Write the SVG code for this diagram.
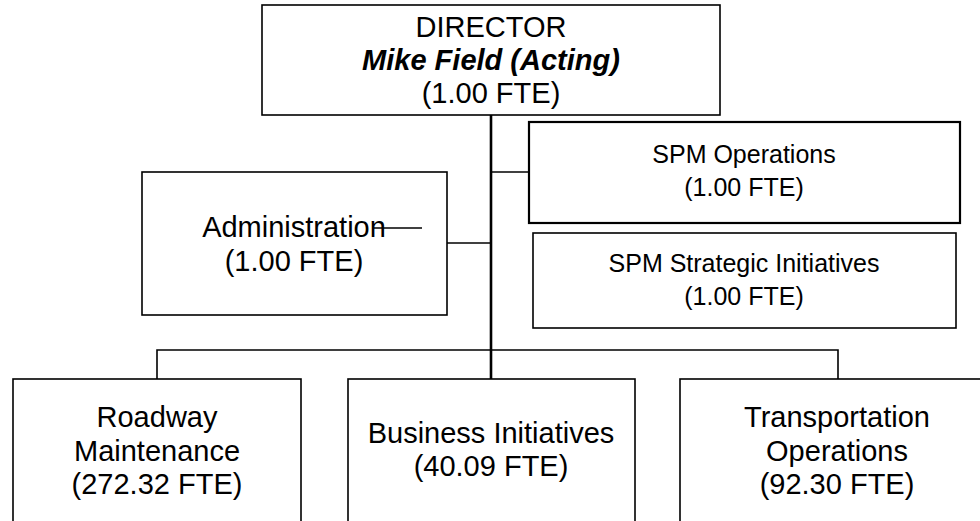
<svg xmlns="http://www.w3.org/2000/svg" width="980" height="521" viewBox="0 0 980 521">
<style>
.box{fill:#fff;stroke:#000;stroke-width:1.6}
.thick{stroke-width:2.2}
.t{font-family:"Liberation Sans",Arial,sans-serif;fill:#000;text-anchor:middle}
.big{font-size:29px}
.sm{font-size:25px}
.bi{font-weight:bold;font-style:italic}
.ln{stroke:#000;stroke-width:1.6;fill:none}
.main{stroke:#000;stroke-width:2.6;fill:none}
</style>
<rect width="980" height="521" fill="#fff"/>
<g id="connectors">
<line class="main" x1="491" y1="115" x2="491" y2="379"/>
<line class="ln" x1="447" y1="243" x2="491" y2="243"/>
<line class="ln" x1="491" y1="172" x2="529" y2="172"/>
<polyline class="ln" points="157,379 157,350 838,350 838,379"/>
</g>
<g id="director">
<rect class="box" x="262" y="5" width="458" height="110"/>
<text class="t big" x="491" y="37">DIRECTOR</text>
<text class="t big bi" x="491" y="70">Mike Field (Acting)</text>
<text class="t big" x="491" y="103">(1.00 FTE)</text>
</g>
<g id="administration">
<rect class="box" x="142" y="172" width="305" height="143"/>
<text class="t big" x="294" y="237">Administration</text>
<text class="t big" x="294" y="271">(1.00 FTE)</text>
<line class="ln" x1="374" y1="228" x2="422" y2="228"/>
</g>
<g id="spm-operations">
<rect class="box thick" x="529" y="122" width="431" height="101"/>
<text class="t sm" x="744" y="163">SPM Operations</text>
<text class="t sm" x="744" y="196">(1.00 FTE)</text>
</g>
<g id="spm-strategic">
<rect class="box" x="533" y="233" width="423" height="95"/>
<text class="t sm" x="744" y="272">SPM Strategic Initiatives</text>
<text class="t sm" x="744" y="305">(1.00 FTE)</text>
</g>
<g id="roadway">
<rect class="box" x="13" y="379" width="288" height="160"/>
<text class="t big" x="157" y="427">Roadway</text>
<text class="t big" x="157" y="461">Maintenance</text>
<text class="t big" x="157" y="494">(272.32 FTE)</text>
</g>
<g id="business">
<rect class="box" x="348" y="379" width="287" height="160"/>
<text class="t big" x="491" y="443">Business Initiatives</text>
<text class="t big" x="491" y="476">(40.09 FTE)</text>
</g>
<g id="transportation">
<rect class="box" x="680" y="379" width="315" height="160"/>
<text class="t big" x="837" y="427">Transportation</text>
<text class="t big" x="837" y="461">Operations</text>
<text class="t big" x="837" y="494">(92.30 FTE)</text>
</g>
</svg>
